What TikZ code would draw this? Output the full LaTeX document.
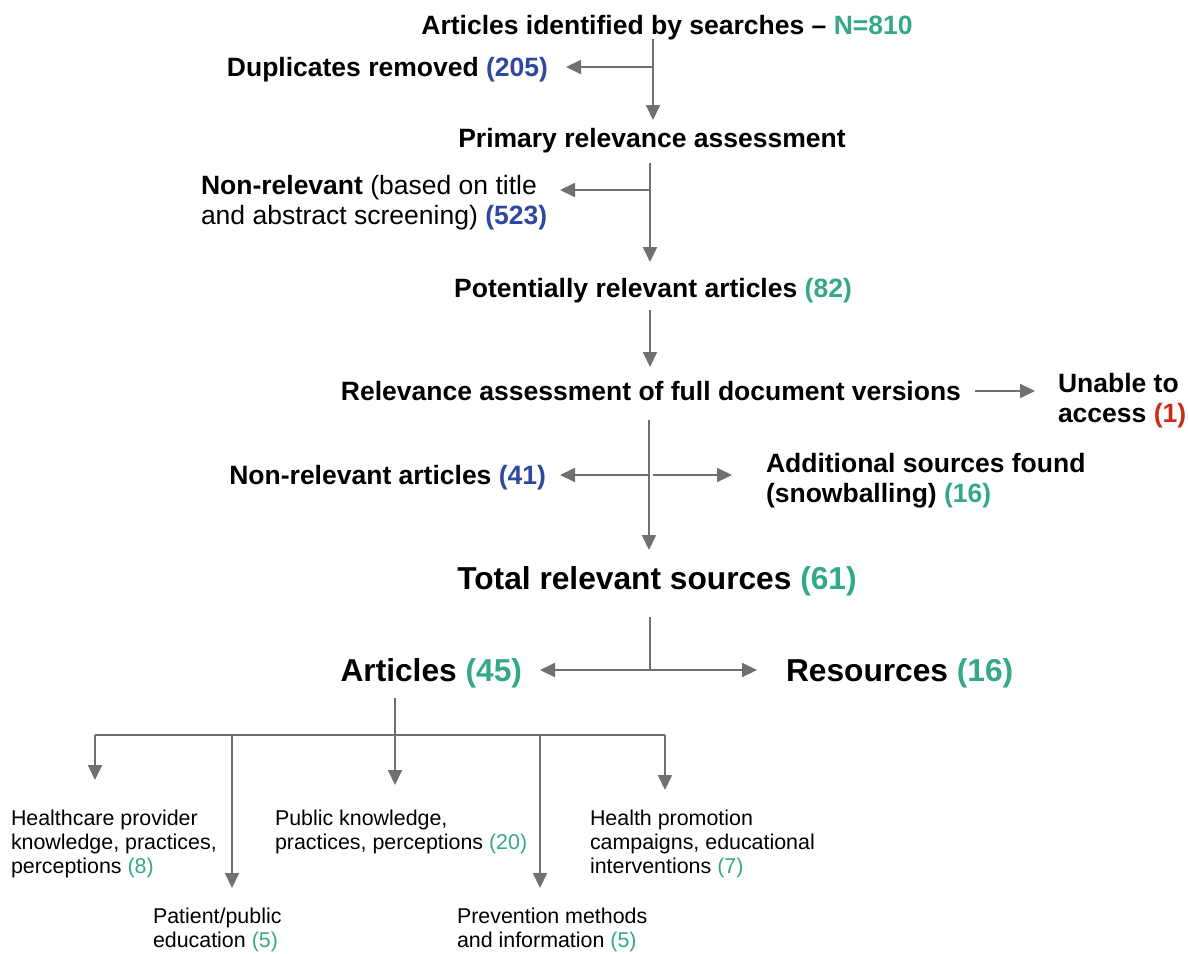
\documentclass[tikz,border=0pt]{standalone}
\usepackage{fontspec}
\setmainfont{Liberation Sans}
\usetikzlibrary{arrows.meta}
\definecolor{tgreen}{RGB}{52,168,136}
\definecolor{tblue}{RGB}{45,72,158}
\definecolor{tred}{RGB}{200,45,25}
\definecolor{agray}{RGB}{112,112,112}
\begin{document}
\begin{tikzpicture}[x=1pt,y=-1pt,
  arr/.style={draw=agray, line width=2pt, -{Triangle[length=15pt,width=14pt]}},
  ln/.style={draw=agray, line width=2pt},
  medb/.style={font=\fontsize{26.5}{30}\selectfont\bfseries, inner sep=0pt, outer sep=0pt},
  medr/.style={font=\fontsize{26.5}{30}\selectfont, inner sep=0pt, outer sep=0pt},
  big/.style={font=\fontsize{31.7}{36}\selectfont\bfseries, inner sep=0pt, outer sep=0pt},
  small/.style={font=\fontsize{21.4}{24}\selectfont, inner sep=0pt, outer sep=0pt, align=left, anchor=base west},
]
\useasboundingbox (0,0) rectangle (1188,953);

% text nodes (multi-line nodes are placed by the baseline of their last line)
\node[medb, anchor=base] (title) at (667,34) {Articles identified by searches – \textcolor{tgreen}{N=810}};
\node[medb, anchor=base east] (dup) at (548,76) {Duplicates removed \textcolor{tblue}{(205)}};
\node[medb, anchor=base] (prim) at (652,147) {Primary relevance assessment};
\node[medr, anchor=base west, align=left] (nonrel) at (201,224) {\textbf{Non-relevant} (based on title\\and abstract screening) \textbf{\textcolor{tblue}{(523)}}};
\node[medb, anchor=base] (pot) at (653,297) {Potentially relevant articles \textcolor{tgreen}{(82)}};
\node[medb, anchor=base] (full) at (651,400) {Relevance assessment of full document versions};
\node[medb, anchor=base west, align=left] (unable) at (1058,422) {Unable to\\access \textcolor{tred}{(1)}};
\node[medb, anchor=base east] (nra) at (546,484) {Non-relevant articles \textcolor{tblue}{(41)}};
\node[medb, anchor=base west, align=left] (add) at (766,502) {Additional sources found\\(snowballing) \textcolor{tgreen}{(16)}};
\node[big, anchor=base] (total) at (657,589) {Total relevant sources \textcolor{tgreen}{(61)}};
\node[big, anchor=base east] (art) at (522,681) {Articles \textcolor{tgreen}{(45)}};
\node[big, anchor=base west] (res) at (786,681) {Resources \textcolor{tgreen}{(16)}};

\node[small] (hc) at (11,873) {Healthcare provider\\knowledge, practices,\\perceptions \textcolor{tgreen}{(8)}};
\node[small] (pp) at (153,947) {Patient/public\\education \textcolor{tgreen}{(5)}};
\node[small] (pk) at (275,849) {Public knowledge,\\practices, perceptions \textcolor{tgreen}{(20)}};
\node[small] (pm) at (457,947) {Prevention methods\\and information \textcolor{tgreen}{(5)}};
\node[small] (hp) at (590,873) {Health promotion\\campaigns, educational\\interventions \textcolor{tgreen}{(7)}};

% junction coordinates
\coordinate (a0) at (653,39);
\coordinate (a1) at (653,67);
\coordinate (a2) at (653,120);
\coordinate (d1) at (566,67);
\coordinate (b0) at (650,163);
\coordinate (b1) at (650,190);
\coordinate (b2) at (650,262);
\coordinate (n1) at (560,190);
\coordinate (c0) at (650,310);
\coordinate (c1) at (650,367);
\coordinate (u0) at (975,391);
\coordinate (u1) at (1035,391);
\coordinate (e0) at (649,420);
\coordinate (e1) at (649,475);
\coordinate (e2) at (649,550);
\coordinate (e3) at (560,475);
\coordinate (e4) at (653,475);
\coordinate (e5) at (732,475);
\coordinate (f0) at (650,617);
\coordinate (f1) at (650,670);
\coordinate (f2) at (540,670);
\coordinate (f3) at (757,670);
\coordinate (g0) at (395,698);
\coordinate (g1) at (395,735);
\coordinate (g2) at (395,785);
\coordinate (hL) at (95,735);
\coordinate (hR) at (665,735);
\coordinate (h2) at (232,735);
\coordinate (h4) at (540,735);
\coordinate (t1) at (95,780);
\coordinate (t2) at (232,888);
\coordinate (t4) at (540,888);
\coordinate (t5) at (665,790);

% connectors
\draw[arr] (a0) -- (a2);
\draw[arr] (a1) -- (d1);
\draw[arr] (b0) -- (b2);
\draw[arr] (b1) -- (n1);
\draw[arr] (c0) -- (c1);
\draw[arr] (u0) -- (u1);
\draw[arr] (e0) -- (e2);
\draw[arr] (e1) -- (e3);
\draw[arr] (e4) -- (e5);
\draw[ln] (f0) -- (f1);
\draw[arr] (f1) -- (f2);
\draw[arr] (f1) -- (f3);
\draw[arr] (g0) -- (g2);
\draw[ln] (hL) -- (hR);
\draw[arr] (hL) -- (t1);
\draw[arr] (h2) -- (t2);
\draw[arr] (h4) -- (t4);
\draw[arr] (hR) -- (t5);
\end{tikzpicture}
\end{document}
